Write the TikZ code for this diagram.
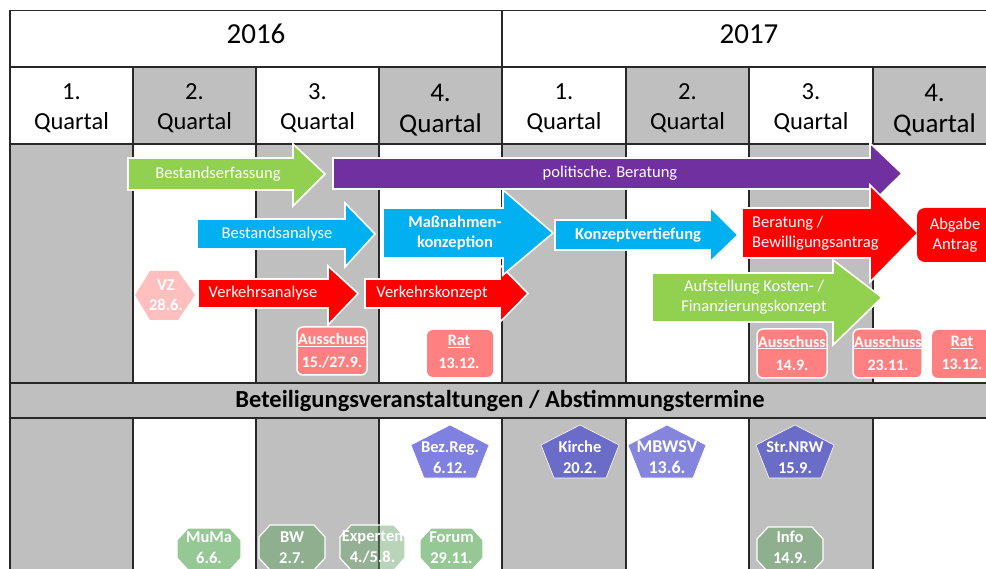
\documentclass[tikz,border=0pt]{standalone}
\usepackage{fontspec}
\setmainfont{Carlito}
\definecolor{gbg}{RGB}{191,191,191}
\definecolor{tline}{RGB}{40,40,40}
\definecolor{agreen}{RGB}{146,208,80}
\definecolor{apurple}{RGB}{112,48,160}
\definecolor{ablue}{RGB}{0,176,240}
\definecolor{ared}{RGB}{255,0,0}
\definecolor{pinkbox}{RGB}{255,128,128}
\definecolor{lpink}{RGB}{255,191,191}
\definecolor{pentA}{RGB}{128,128,224}
\definecolor{pentB}{RGB}{107,107,200}
\definecolor{pentC}{RGB}{133,133,222}
\definecolor{octA}{RGB}{150,200,150}
\definecolor{octB}{RGB}{143,176,143}
\definecolor{octC}{RGB}{100,160,100}
\newcommand{\fsz}[2]{\fontsize{#1}{#2}\selectfont}
\newcommand{\blockarr}[8]{%
  \path[fill=#1, draw=white, line width=1.6pt, line join=miter]
    (#2,#5) -- (#3,#5) -- (#3,#7) -- (#4,{(#5+#6)/2}) -- (#3,#8) -- (#3,#6) -- (#2,#6) -- cycle;}
\newcommand{\octa}[6][]{%
  \path[fill=#2, draw=white, line width=1.2pt, #1]
    ({#3+11},#4) -- ({#5-11},#4) -- (#5,{#4+12}) -- (#5,{#6-12}) -- ({#5-11},#6)
    -- ({#3+11},#6) -- (#3,{#6-12}) -- (#3,{#4+12}) -- cycle;}
\newcommand{\penta}[2]{%
  \path[fill=#1, draw=white, line width=0.6pt]
    (#2,425) -- ({#2+39},445) -- ({#2+26},478) -- ({#2-26},478) -- ({#2-39},445) -- cycle;}
\begin{document}
\begin{tikzpicture}[x=1pt,y=-1pt,
  tbl/.style={draw=tline, line width=1.3pt},
  ytext/.style={font=\fsz{29}{32}, inner sep=0pt},
  qtext/.style={font=\fsz{24.5}{30}, inner sep=0pt, align=center},
  qtextb/.style={font=\fsz{27}{31}, inner sep=0pt, align=center},
  atext/.style={text=white, font=\fsz{16.5}{20}, inner sep=0pt, align=center},
  btext/.style={text=white, font=\bfseries\fsz{16.5}{20}, inner sep=0pt, align=center},
  boxtext/.style={text=white, font=\bfseries\fsz{16}{23}, inner sep=0pt, align=center},
  shtext/.style={text=white, font=\bfseries\fsz{16.5}{21}, inner sep=0pt, align=center},
  datebox/.style={fill=pinkbox, draw=white, line width=1.5pt, rounded corners=6pt},
  sectext/.style={font=\bfseries\fsz{24.5}{26}, inner sep=0pt}]
\useasboundingbox (0,0) rectangle (986,569);
\clip (0,0) rectangle (986,569);
\fill[white] (0,0) rectangle (986,569);
% shading
\foreach \a/\b in {133/256,379/502,626/749,873/996}
  \fill[gbg] (\a,67) rectangle (\b,144);
\foreach \a/\b in {10/133,256/379,502/626,749/873}{
  \fill[gbg] (\a,144) rectangle (\b,383);
  \fill[gbg] (\a,418) rectangle (\b,575);}
\fill[gbg] (10,383) rectangle (996,418);
% grid
\foreach \y in {10.5,67,144,383,418}
  \draw[tbl] (10,\y) -- (996,\y);
\draw[tbl] (10,10.5) -- (10,575);
\draw[tbl] (502,10.5) -- (502,383);
\draw[tbl] (502,418) -- (502,575);
\foreach \x in {133,256,379,626,749,873}{
  \draw[tbl] (\x,67) -- (\x,383);
  \draw[tbl] (\x,418) -- (\x,575);}
% header text
\node[ytext] (y16) at (256,34) {2016};
\node[ytext] (y17) at (749,34) {2017};
\node[qtext] (q1) at (71.5,108) {1.\\Quartal};
\node[qtext] (q2) at (194.5,108) {2.\\Quartal};
\node[qtext] (q3) at (317.5,108) {3.\\Quartal};
\node[qtextb] (q4) at (440.5,110) {4.\\Quartal};
\node[qtext] (q5) at (564,108) {1.\\Quartal};
\node[qtext] (q6) at (687.5,108) {2.\\Quartal};
\node[qtext] (q7) at (811,108) {3.\\Quartal};
\node[qtextb] (q8) at (934.5,110) {4.\\Quartal};
% arrows
\blockarr{agreen}{128}{293}{325}{158}{190}{144}{206}
\node[atext] (bestE) at (218,174) {Bestandserfassung};
\blockarr{apurple}{333}{870}{902}{158}{189}{143}{205}
\node[atext] (polB) at (610,173) {politische. Beratung};
\blockarr{ablue}{197}{345}{375}{219}{249}{203}{267}
\node[atext] (bestA) at (277,234) {Bestandsanalyse};
\blockarr{ared}{198}{328}{358}{279}{308}{266}{325}
\node[atext] (vAna) at (263,293) {Verkehrsanalyse};
\blockarr{ared}{365}{500}{528}{279}{308}{265}{322}
\node[atext] (vKon) at (432,293) {Verkehrskonzept};
\blockarr{ablue}{383}{503}{553}{208}{258}{190}{275}
\node[btext] (massn) at (455,233) {Maßnahmen-\\konzeption};
\blockarr{ablue}{555}{710}{738}{220}{250}{207}{262}
\node[btext] (kvert) at (638,235) {Konzeptvertiefung};
\blockarr{agreen}{652}{833}{882}{273}{322}{260}{345}
\node[atext] (aufst) at (754,297.5) {Aufstellung Kosten- /\\Finanzierungskonzept};
\blockarr{ared}{742}{870}{918}{208}{258}{185}{282}
\node[atext, anchor=west, align=left] (berat) at (752,233) {Beratung /\\Bewilligungsantrag};
\path[fill=ared, rounded corners=8pt] (917,208) rectangle (994,262);
\node[atext] (abgabe) at (955,235) {Abgabe\\Antrag};
% VZ hexagon
\path[fill=lpink] (135,295) -- (150,271) -- (178,271) -- (195,295) -- (178,320) -- (150,320) -- cycle;
\node[shtext, font=\bfseries\fsz{16.5}{20}] (vz) at (166,295) {VZ\\28.6.};
% date boxes
\path[datebox] (297,327) rectangle (367,375);
\node[boxtext] (aus1) at (332,351) {\underline{Ausschuss}\\15./27.9.};
\path[datebox, draw=none] (427,330) rectangle (493,377);
\node[boxtext] (rat1) at (459,352) {\underline{Rat}\\13.12.};
\path[datebox] (757,329) rectangle (827,378);
\node[boxtext] (aus2) at (792,353) {\underline{Ausschuss}\\14.9.};
\path[datebox] (853,329) rectangle (922,378);
\node[boxtext] (aus3) at (888,353) {\underline{Ausschuss}\\23.11.};
\path[datebox, draw=none] (932,330) rectangle (994,378);
\node[boxtext] (rat2) at (962,353) {\underline{Rat}\\13.12.};
% section title
\node[sectext] (sect) at (500,401) {Beteiligungsveranstaltungen / Abstimmungstermine};
% pentagons
\penta{pentA}{450}
\node[shtext] (bez) at (450,457.5) {Bez.Reg.\\6.12.};
\penta{pentB}{580}
\node[shtext] (kir) at (580,457.5) {Kirche\\20.2.};
\penta{pentC}{667}
\node[shtext, font=\bfseries\fsz{18}{21}] (mbw) at (667,457.5) {MBWSV\\13.6.};
\penta{pentB}{795}
\node[shtext] (str) at (795,457.5) {Str.NRW\\15.9.};
% octagons
\octa{octA}{177}{528}{241}{570}
\node[shtext] (muma) at (209,547.5) {MuMa\\6.6.};
\octa{octB}{259}{525}{325}{570}
\node[shtext] (bw) at (292,547.5) {BW\\2.7.};
\octa[fill opacity=0.45]{octC}{340}{525}{405}{570}
\node[shtext] (exp) at (372.5,547.5) {Experten\\4./5.8.};
\octa{octA}{420}{528}{483}{570}
\node[shtext] (forum) at (451.5,547.5) {Forum\\29.11.};
\octa{octB}{757}{527}{823}{572}
\node[shtext] (info) at (790,547.5) {Info\\14.9.};
\end{tikzpicture}
\end{document}
